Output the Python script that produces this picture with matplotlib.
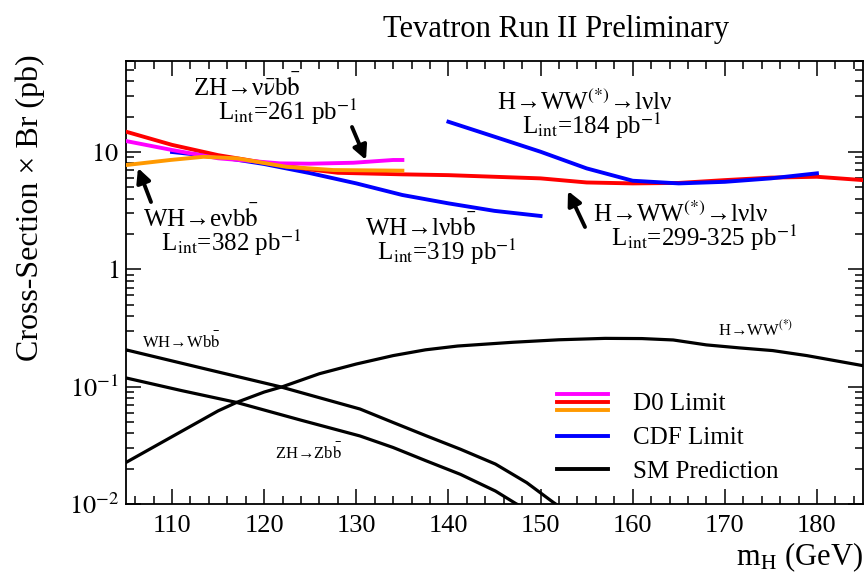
import matplotlib
matplotlib.use("Agg")
import matplotlib.pyplot as plt
from matplotlib.lines import Line2D
from matplotlib.legend_handler import HandlerBase
from matplotlib.ticker import FixedLocator, MultipleLocator, FuncFormatter, NullFormatter, LogLocator

plt.rcParams['font.family'] = ['Liberation Serif', 'DejaVu Serif']
plt.rcParams['mathtext.fontset'] = 'stix'

# ---------------- data ----------------
mass_d0_ww = [105, 110, 115, 120, 125, 128, 135, 140, 145, 150, 155, 160, 165, 170, 175, 180, 185]
limit_d0_ww = [14.9, 11.5, 9.4, 8.1, 7.1, 6.65, 6.45, 6.35, 6.15, 5.96, 5.5, 5.4, 5.45, 5.76, 6.05, 6.15, 5.76]

mass_d0_zh = [105, 110, 115, 121.7, 125, 129.7, 134, 135]
limit_d0_zh = [12.4, 10.4, 8.84, 8.0, 7.95, 8.1, 8.55, 8.55]

mass_d0_wh = [105, 109.8, 113.4, 117, 122.4, 127.5, 135]
limit_d0_wh = [7.74, 8.55, 9.1, 8.84, 7.48, 7.02, 6.93]

mass_cdf_wh = [110, 115, 120, 125, 130, 135, 140, 145, 150]
limit_cdf_wh = [10.0, 9.1, 7.9, 6.6, 5.4, 4.3, 3.65, 3.15, 2.85]

mass_cdf_ww = [140, 145, 150, 155, 160, 165, 170, 175, 180]
limit_cdf_ww = [18.1, 13.5, 10.05, 7.25, 5.69, 5.4, 5.57, 5.96, 6.58]

mass_sm_ww = [105, 110, 115, 117, 120, 122, 126, 130, 134, 137.5, 141, 147, 152, 157, 161, 164.4, 168, 171.6, 175.2, 178.9, 185]
sm_ww = [0.0226, 0.0375, 0.0622, 0.0734, 0.090, 0.10, 0.129, 0.156, 0.184, 0.206, 0.222, 0.239, 0.251,
         0.258, 0.257, 0.25, 0.227, 0.214, 0.203, 0.184, 0.151]

mass_sm_wh = [105, 113.4, 121.7, 126, 130.4, 134, 137.6, 141.3, 145.1, 148.5, 151.4, 151.8]
sm_wh = [0.206, 0.143, 0.10, 0.0805, 0.0645, 0.0495, 0.0381, 0.0293, 0.0219, 0.0152, 0.0103, 0.0098]

mass_sm_zh = [105, 111, 117, 124, 130.4, 134, 137.6, 141.3, 145.1, 147.3, 147.6]
sm_zh = [0.1187, 0.0927, 0.0734, 0.0518, 0.038, 0.0303, 0.0233, 0.0179, 0.0129, 0.0101, 0.0098]

x_ticks = [110, 120, 130, 140, 150, 160, 170, 180]
y_ticks = [0.01, 0.1, 1, 10]
y_tick_labels = [r'$10^{-2}$', r'$10^{-1}$', r'$1\ \ \,$', r'$10\ \ \,$']

legend_labels = ['D0 Limit', 'CDF Limit', 'SM Prediction']

MAGENTA = '#ff00ff'
RED = '#ff0000'
ORANGE = '#ff9900'
BLUE = '#0000ff'

W, H = 864, 577
fig = plt.figure(figsize=(W / 100, H / 100), dpi=100)
L, R, T, B = 126, 863, 60.7, 504
ax = fig.add_axes([L / W, 1 - B / H, (R - L) / W, (B - T) / H])

ax.set_yscale('log')
ax.set_xlim(105, 185)
ax.set_ylim(0.01, 60)

lw_lim = 2.8
lw_sm = 2.3
ax.plot(mass_d0_ww, limit_d0_ww, color=RED, lw=lw_lim, zorder=3)
ax.plot(mass_d0_zh, limit_d0_zh, color=MAGENTA, lw=lw_lim, zorder=3)
ax.plot(mass_d0_wh, limit_d0_wh, color=ORANGE, lw=lw_lim, zorder=4)
ax.plot(mass_cdf_wh, limit_cdf_wh, color=BLUE, lw=lw_lim, zorder=2)
ax.plot(mass_cdf_ww, limit_cdf_ww, color=BLUE, lw=lw_lim, zorder=4)
ax.plot(mass_sm_ww, sm_ww, color='black', lw=lw_sm)
ax.plot(mass_sm_wh, sm_wh, color='black', lw=lw_sm)
ax.plot(mass_sm_zh, sm_zh, color='black', lw=lw_sm)

# ticks
ax.xaxis.set_major_locator(FixedLocator(x_ticks))
ax.xaxis.set_minor_locator(MultipleLocator(2))
ax.yaxis.set_major_locator(FixedLocator(y_ticks))
ax.yaxis.set_minor_locator(LogLocator(base=10, subs=range(2, 10)))
ax.yaxis.set_minor_formatter(NullFormatter())
lab_map = dict(zip(y_ticks, y_tick_labels))
ax.yaxis.set_major_formatter(FuncFormatter(lambda v, p: min(lab_map.items(), key=lambda kv: abs(kv[0] - v))[1]))
ax.tick_params(which='both', direction='in', top=True, right=True, width=1.1)
ax.tick_params(which='major', length=11, labelsize=19)
ax.tick_params(which='minor', length=6)
ax.tick_params(axis='x', which='major', pad=8)
ax.tick_params(axis='y', which='major', pad=5)
for s in ax.spines.values():
    s.set_linewidth(1.3)

# axis labels and title
ax.set_xlabel(r'm$_{\mathrm{H}}$ (GeV)', fontsize=22, loc='right')
ax.xaxis.set_label_coords(1.0, (B - 565) / (B - T))
ax.xaxis.label.set_va('baseline')

ax.set_ylabel(u'Cross-Section \u00d7 Br (pb)', fontsize=23, loc='top')
ax.yaxis.label.set_rotation_mode('default')
ax.yaxis.label.set_ha('center')
ax.yaxis.label.set_va('top')
ax.yaxis.set_label_coords((30 - L) / (R - L), 1 + (T - 54) / (B - T))

ax.set_title('Tevatron Run II Preliminary', fontsize=22, x=(556 - L) / (R - L),
             y=1 + (T - 37) / (B - T), pad=0, va='baseline')

# annotations (positions in figure pixels)
def ftext(px, py, s, size=18, ha='left', ls=1.2):
    fig.text(px / W, 1 - py / H, s, fontsize=size, ha=ha, va='center',
             linespacing=ls, multialignment='left')

def farrow(x0, y0, x1, y1):
    ax.annotate('', xy=(x1 / W, 1 - y1 / H), xytext=(x0 / W, 1 - y0 / H),
                xycoords='figure fraction', textcoords='figure fraction',
                arrowprops=dict(arrowstyle='-|>,head_length=0.6,head_width=0.3', lw=2.8,
                                color='black', shrinkA=0, shrinkB=0, mutation_scale=14))

BB = r'b$\bar{\mathrm{b}}$'
LS = 0.82
ftext(193, 100, u'ZH\u2192\u03bd' + r'$\bar{\mathrm{\nu}}$' + BB + '\n    ' + r'L$_{\rm int}$=261 pb$^{-1}$', ls=LS)
farrow(352, 127, 366, 160)

ftext(143, 231, u'WH\u2192e\u03bd' + BB + '\n   ' + r'L$_{\rm int}$=382 pb$^{-1}$', ls=LS)
farrow(151, 202, 138, 168)

ftext(365, 240, u'WH\u2192l\u03bd' + BB + '\n  ' + r'L$_{\rm int}$=319 pb$^{-1}$', ls=LS)

ftext(497, 115, u'H\u2192WW' + r'$^{(*)}$' + u'\u2192l\u03bdl\u03bd' + '\n    ' + r'L$_{\rm int}$=184 pb$^{-1}$', ls=LS)

ftext(593, 227, u'H\u2192WW' + r'$^{(*)}$' + u'\u2192l\u03bdl\u03bd' + '\n   ' + r'L$_{\rm int}$=299-325 pb$^{-1}$', ls=LS)
farrow(585, 227, 568, 191)

ftext(142, 342, u'WH\u2192W' + BB, size=12)
ftext(275, 453, u'ZH\u2192Z' + BB, size=12)
ftext(718, 329, u'H\u2192WW' + r'$^{(*)}$', size=12)

# legend
class StackedLines(HandlerBase):
    def create_artists(self, legend, orig_handle, xdescent, ydescent, width, height, fontsize, trans):
        cols = orig_handle.colors
        n = len(cols)
        arts = []
        for i, c in enumerate(cols):
            off = (i - (n - 1) / 2) * 0.30 * height if n > 1 else 0
            yy = height / 2 - ydescent - off
            ln = Line2D([-xdescent, -xdescent + width], [yy, yy], color=c, lw=2.8, transform=trans)
            arts.append(ln)
        return arts

class Stack:
    def __init__(self, colors):
        self.colors = colors

handles = [Stack([MAGENTA, RED, ORANGE]), Stack([BLUE]), Stack(['black'])]
leg = ax.legend(handles, legend_labels, handler_map={Stack: StackedLines()},
                loc='upper left', bbox_to_anchor=(557 / W, 1 - 389 / H), bbox_transform=fig.transFigure,
                frameon=False, fontsize=18, handlelength=2.05, handletextpad=1.0,
                labelspacing=0.3, borderpad=0, borderaxespad=0, handleheight=1.2)

fig.savefig('out.png', dpi=100)
